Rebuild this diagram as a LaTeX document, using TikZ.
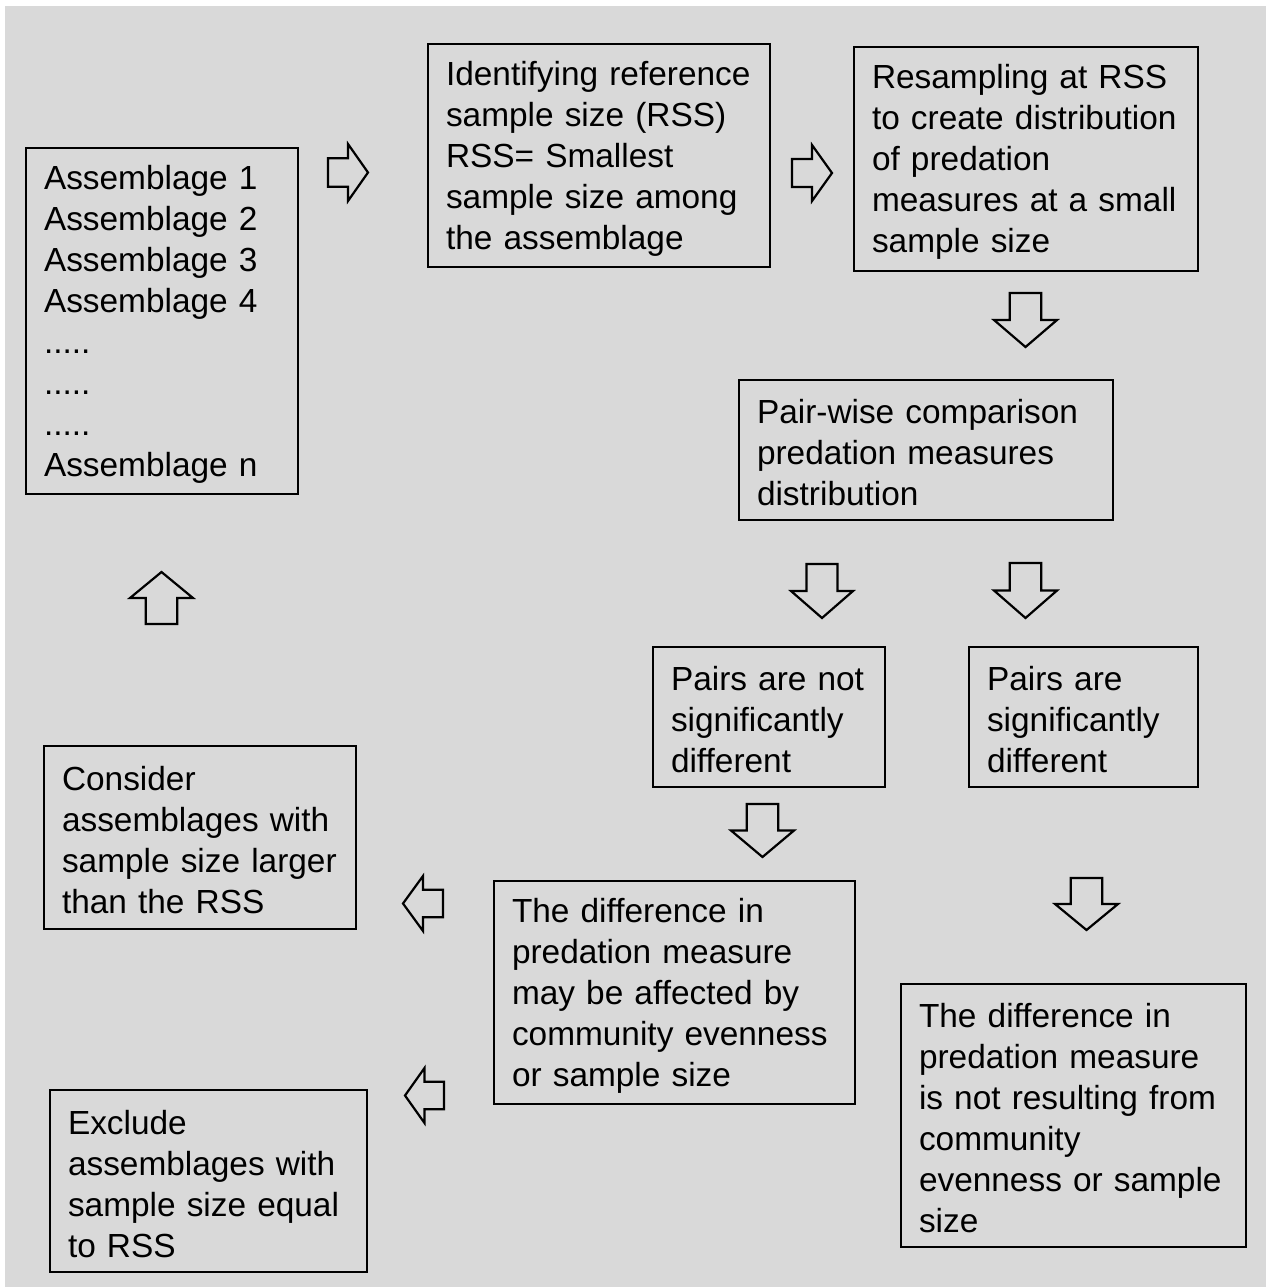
\documentclass[tikz,border=0pt]{standalone}
\usepackage{fontspec}
\setmainfont{Liberation Sans}

% hollow block arrow: centre x, centre y, angle, length, width
\newcommand{\fatarrow}[5]{%
  \draw[fatline, shift={(#1,#2)}, rotate=#3]
    ({-#4/2},{-#5/4}) -- (0,{-#5/4}) -- (0,{-#5/2}) -- ({#4/2},0)
    -- (0,{#5/2}) -- (0,{#5/4}) -- ({-#4/2},{#5/4}) -- cycle;}

\definecolor{bggray}{RGB}{217,217,217}

\begin{document}
\begin{tikzpicture}[x=1pt, y=-1pt,
    procbox/.style={draw, line width=1.8pt, align=left, anchor=center,
      inner xsep=18pt, inner ysep=0pt,
      font=\fontsize{33.4}{41}\selectfont,
      execute at begin node={\rule{0pt}{30pt}}},
    fatline/.style={draw, line width=2.2pt, line join=miter}]
    \useasboundingbox (0,0) rectangle (1266,1287);
    \fill[bggray] (5,6) rectangle (1266,1287);

    % top row
    \node[procbox, minimum width=272pt, minimum height=346pt, text width=236pt]
        (asm) at (162,321)
        {Assemblage 1\\Assemblage 2\\Assemblage 3\\Assemblage 4\\.....\\.....\\.....\\Assemblage n};
    \node[procbox, minimum width=342pt, minimum height=223pt, text width=306pt]
        (rss) at (599,155.5)
        {Identifying reference\\sample size (RSS)\\RSS= Smallest\\sample size among\\the assemblage};
    \node[procbox, minimum width=344pt, minimum height=224pt, text width=308pt]
        (resamp) at (1026,159)
        {Resampling at RSS\\to create distribution\\of predation\\measures at a small\\sample size};

    \fatarrow{348}{172.5}{0}{40}{57}
    \fatarrow{812}{173}{0}{40}{56}
    \fatarrow{1025.5}{320}{-90}{54}{63}

    % comparison
    \node[procbox, minimum width=374pt, minimum height=140pt, text width=338pt]
        (pairwise) at (926,450)
        {Pair-wise comparison\\predation measures\\distribution};

    \fatarrow{822}{591}{-90}{54}{62}
    \fatarrow{1025.5}{590.5}{-90}{55}{63}

    \node[procbox, minimum width=232pt, minimum height=140pt, text width=196pt]
        (notsig) at (769,717)
        {Pairs are not\\significantly\\different};
    \node[procbox, minimum width=229pt, minimum height=140pt, text width=193pt]
        (sig) at (1083.5,717)
        {Pairs are\\significantly\\different};

    \fatarrow{762.5}{830.5}{-90}{53}{63}
    \fatarrow{1086.5}{904}{-90}{52}{63}

    % outcomes
    \node[procbox, minimum width=361pt, minimum height=223pt, text width=325pt]
        (affected) at (674.5,992.5)
        {The difference in\\predation measure\\may be affected by\\community evenness\\or sample size};
    \node[procbox, minimum width=345pt, minimum height=263pt, text width=309pt]
        (notresult) at (1073.5,1115.5)
        {The difference in\\predation measure\\is not resulting from\\community\\evenness or sample\\size};

    \fatarrow{423}{903.5}{180}{40}{55}
    \fatarrow{424.5}{1095.5}{180}{39}{55}

    \node[procbox, minimum width=312pt, minimum height=183pt, text width=276pt]
        (consider) at (200,837.5)
        {Consider\\assemblages with\\sample size larger\\than the RSS};
    \node[procbox, minimum width=317pt, minimum height=182pt, text width=281pt]
        (exclude) at (208.5,1181)
        {Exclude\\assemblages with\\sample size equal\\to RSS};

    \fatarrow{161.5}{598}{90}{52}{63}
\end{tikzpicture}
\end{document}
